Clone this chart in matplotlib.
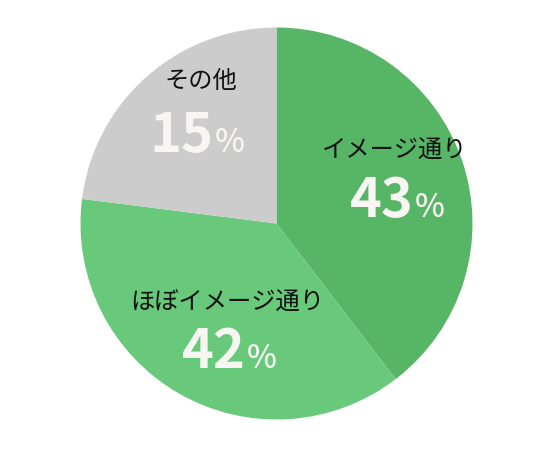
import matplotlib
matplotlib.use('Agg')
from matplotlib import pyplot as plt

# slice sizes as drawn (the printed percentages differ from the drawn angles)
categories = ['イメージ通り', 'ほぼイメージ通り', 'その他']
shares = [39.6, 37.4, 23.0]
pct_labels = ['43', '42', '15']
colours = ['#57b566', '#69c97a', '#cccccc']

plt.rcParams['font.family'] = ['Noto Sans CJK JP', 'DejaVu Sans']

W, H = 552, 450
cx, cy, r = 276.5, 223.5, 196.0


def px(x, y):
    # pixel position in the picture -> data coordinates (pie radius = 1)
    return (x - cx) / r, (cy - y) / r


fig = plt.figure(figsize=(W / 100, H / 100), dpi=100)
ax = fig.add_axes([0, 0, 1, 1])
ax.pie(shares, colors=colours, startangle=90, counterclock=False,
       radius=1, center=(0, 0), wedgeprops={'linewidth': 0})
ax.set_aspect('auto')
ax.set_xlim(-cx / r, (W - cx) / r)
ax.set_ylim(-(H - cy) / r, cy / r)
ax.axis('off')

# label placement in picture pixels: (category centre), (split x, baseline y)
cat_pos = [(395, 151), (227, 302), (201, 81)]
pct_pos = [(414, 217), (246, 368), (213.5, 152)]

for name, pct, (tx, ty), (sx, sy) in zip(categories, pct_labels, cat_pos, pct_pos):
    ax.text(*px(tx, ty), name, ha='center', va='center', fontsize=17.5,
            color='#111111')
    ax.text(*px(sx, sy), pct, ha='right', va='baseline', fontsize=39,
            fontweight='bold', color='#f8f6f2')
    ax.text(*px(sx + 1, sy), '%', ha='left', va='baseline', fontsize=23,
            fontweight='medium', color='#f8f6f2')

fig.savefig('out.png', dpi=100)
